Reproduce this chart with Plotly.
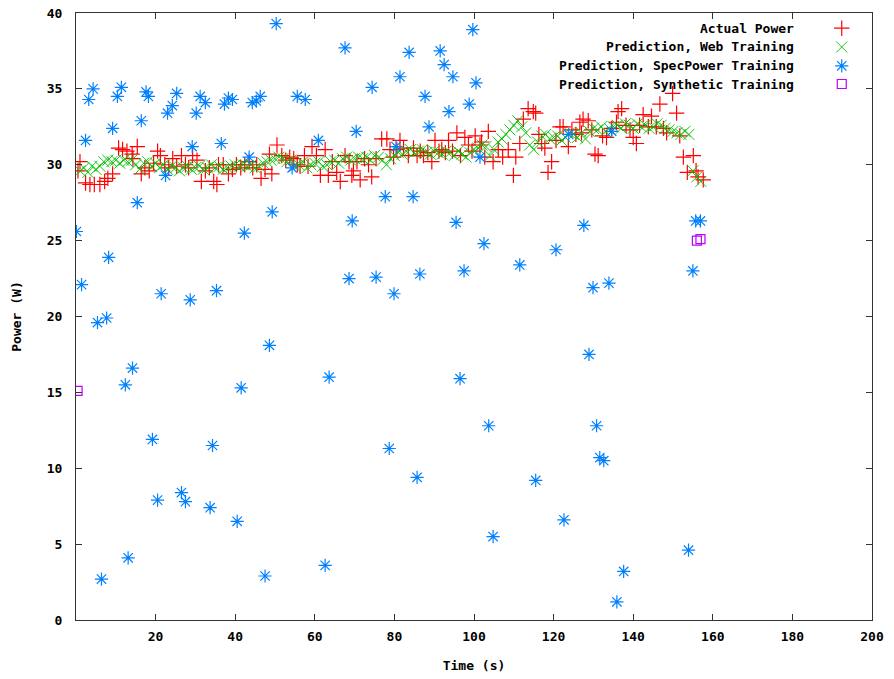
import plotly.graph_objects as go

# ---------------- data ----------------
actual_t = [0.5, 1.0, 2.4, 3.5, 4.6, 6.0, 7.2, 8.0, 9.2, 10.7, 11.7, 12.8, 14.1, 14.3, 15.4, 16.4, 17.3,
            18.4, 19.5, 20.5, 21.2, 22.3, 23.3, 24.3, 25.3, 26.5, 27.5, 28.3, 29.3, 30.4, 31.5, 32.5,
            33.5, 34.6, 35.4, 35.8, 37.0, 38.3, 39.3, 40.3, 41.4, 42.4, 43.5, 44.4, 45.4, 46.5, 47.5,
            48.6, 49.2, 50.5, 51.7, 52.7, 53.7, 54.7, 55.6, 56.3, 57.4, 58.3, 59.3, 60.4, 61.4, 62.6,
            63.4, 64.4, 65.5, 66.4, 67.6, 68.6, 69.3, 69.7, 70.6, 71.4, 72.5, 73.5, 74.3, 75.4, 76.8,
            78.1, 78.9, 79.8, 80.6, 81.4, 82.3, 83.5, 84.8, 85.7, 86.5, 87.3, 88.4, 89.4, 90.2, 91.2,
            91.9, 92.8, 93.6, 94.6, 95.7, 96.6, 97.7, 98.6, 99.5, 100.3, 101.5, 101.9, 102.7, 103.6,
            104.8, 106.1, 107.2, 108.6, 109.9, 110.5, 111.5, 112.4, 113.6, 114.9, 115.5, 116.3, 117.0,
            117.8, 118.6, 119.5, 120.6, 121.6, 122.4, 123.7, 124.6, 125.6, 126.6, 127.0, 127.4, 128.7,
            129.6, 130.4, 131.2, 132.3, 133.3, 134.6, 135.8, 136.2, 137.1, 138.2, 139.2, 140.0, 140.8,
            141.6, 142.5, 143.8, 144.6, 145.8, 146.7, 147.6, 148.4, 149.9, 150.9, 151.7, 152.6, 153.6,
            155.1, 155.8, 156.3, 157.6]
actual_w = [29.6, 30.2, 28.8, 28.7, 28.7, 28.7, 28.9, 29.1, 29.4, 31.1, 31.0, 30.9, 30.7, 30.4, 31.2, 29.4, 29.8,
            29.6, 30.1, 30.9, 30.6, 30.0, 29.8, 30.4, 29.9, 30.6, 30.0, 29.8, 30.6, 30.3, 28.9, 29.6,
            29.8, 28.9, 28.7, 30.0, 30.0, 29.4, 29.7, 30.0, 29.8, 30.0, 30.2, 29.8, 30.0, 29.1, 29.7,
            30.7, 29.4, 31.3, 30.6, 30.3, 30.5, 30.4, 30.0, 29.9, 30.6, 29.9, 31.2, 30.6, 29.3, 31.0,
            29.3, 30.2, 29.5, 28.9, 30.6, 30.2, 29.3, 29.6, 30.2, 29.0, 30.4, 30.0, 29.2, 30.4, 31.7,
            31.7, 31.0, 30.5, 31.0, 31.6, 31.1, 30.6, 31.1, 30.6, 30.9, 30.6, 30.8, 30.2, 31.6, 30.9,
            31.0, 30.8, 31.6, 30.9, 32.1, 30.6, 31.8, 31.3, 30.9, 31.9, 31.3, 31.5, 30.5, 32.2,
            30.2, 31.0, 30.5, 31.0, 29.3, 30.5, 31.4, 33.0, 33.7, 33.5, 33.4, 32.0, 31.4,
            31.1, 29.5, 30.2, 31.6, 32.5, 32.5, 31.2, 32.3, 32.0, 32.8, 32.1, 33.0, 32.9,
            32.3, 30.7, 30.6, 31.9, 31.8, 32.4, 32.8, 33.5, 33.7, 32.6, 32.3, 31.8, 31.4,
            32.6, 33.3, 32.5, 33.2, 32.5, 34.0, 32.4, 32.1, 34.7, 33.4, 31.9, 30.5, 29.5,
            30.6, 29.6, 29.2, 29.0]

web_t = list(range(1, 158))
web_w = [29.6, 29.8, 29.5, 29.9, 29.7, 29.9, 30.2, 30.3, 30.2, 30.3, 30.1, 30.3, 30.2, 30.3, 30.0, 29.7,
         30.1, 30.2, 29.9, 30.1, 29.8, 30.0, 29.7, 29.9, 29.8, 29.6, 29.8, 29.9, 29.7, 29.8, 29.9, 29.7,
         29.8, 30.0, 29.8, 29.9, 29.7, 29.8, 29.9, 30.0, 29.9, 30.0, 29.9, 30.0, 29.8, 29.9, 30.1, 30.2,
         30.3, 30.4, 30.5, 30.4, 30.2, 30.3, 29.9, 30.0, 30.2, 29.8, 30.0, 30.1, 30.2, 29.9, 30.0, 30.2,
         30.3, 30.1, 30.4, 30.5, 30.3, 30.4, 30.5, 30.4, 30.5, 30.3, 30.6, 30.5, 30.3, 30.0, 30.4, 30.6,
         30.8, 30.7, 30.9, 31.0, 30.8, 30.9, 31.0, 30.8, 30.7, 30.9, 30.8, 30.7, 30.9, 30.8, 30.6, 30.9,
         30.7, 30.5, 30.8, 31.0, 31.1, 31.3, 31.2, 30.6, 31.0, 31.5, 31.7, 32.0, 32.3, 32.6, 32.9, 32.5,
         32.1, 31.3, 31.0, 31.5, 31.9, 32.0, 31.7, 31.8, 31.9, 31.6, 31.8, 32.1, 32.0, 31.8, 32.1, 31.7,
         32.2, 32.4, 32.3, 32.5, 32.2, 32.4, 32.5, 32.6, 32.4, 32.7, 32.6, 32.4, 32.7, 32.5, 32.6, 32.4,
         32.5, 32.7, 32.6, 32.4, 32.3, 32.2, 32.1, 32.0, 32.2, 32.0, 29.6, 29.2, 28.9]

spec_t = [0.1, 1.4, 2.4, 3.2, 4.3, 5.4, 6.4, 7.7, 8.2, 9.2, 10.4, 11.4, 12.4, 13.1, 14.2, 15.4, 16.4, 17.6,
          18.2, 19.2, 20.5, 21.4, 22.5, 23.0, 24.2, 25.3, 26.5, 27.5, 28.7, 29.2, 30.2, 31.2, 32.5, 33.7,
          34.3, 35.3, 36.5, 37.3, 38.3, 39.3, 40.5, 41.5, 42.3, 43.5, 44.3, 45.3, 46.3, 47.5, 48.6, 49.3,
          50.3, 54.3, 55.6, 57.6, 60.9, 62.6, 63.6, 67.6, 68.6, 69.4, 70.4, 74.4, 75.4, 77.7, 78.7, 79.9,
          80.4, 81.4, 83.7, 84.7, 85.7, 86.4, 87.7, 88.7, 91.5, 92.5, 93.7, 94.7, 95.5, 96.5, 97.5, 98.8,
          99.7, 100.5, 101.5, 102.5, 103.7, 104.8, 111.5, 115.5, 120.6, 122.6, 123.8, 127.6, 128.9, 129.9,
          130.8, 131.6, 132.6, 133.9, 134.6, 135.9, 137.6, 153.9, 155.0, 155.7, 156.9]
spec_w = [25.6, 22.1, 31.6, 34.3, 35.0, 19.6, 2.7, 19.9, 23.9, 32.4, 34.5, 35.1, 15.5, 4.1, 16.6, 27.5, 32.9, 34.8,
          34.5, 11.9, 7.9, 21.5, 29.3, 33.4, 33.9, 34.7, 8.4, 7.8, 21.1, 31.2, 33.4, 34.5, 34.1, 7.4,
          11.5, 21.7, 31.4, 34.0, 34.4, 34.3, 6.5, 15.3, 25.5, 30.5, 34.1, 34.2, 34.5, 2.9, 18.1, 26.9,
          39.3, 29.8, 34.5, 34.3, 31.6, 3.6, 16.0, 37.7, 22.5, 26.3, 32.2, 35.1, 22.6, 27.9, 11.3, 21.5,
          31.2, 35.8, 37.4, 27.9, 9.4, 22.8, 34.5, 32.5, 37.5, 36.6, 33.5, 35.8, 26.2, 15.9, 23.0, 34.0,
          38.9, 35.4, 30.5, 24.8, 12.8, 5.5, 23.4, 9.2, 24.4, 6.6, 32.0, 26.0, 17.5, 21.9,
          12.8, 10.7, 10.5, 22.2, 32.2, 1.2, 3.2, 4.6, 23.0, 26.3, 26.3]

synth_t = [0.4, 156.0, 156.9]
synth_w = [15.1, 25.0, 25.1]

series_names = ["Actual Power", "Prediction, Web Training",
                "Prediction, SpecPower Training", "Prediction, Synthetic Training"]
x_ticks = [20, 40, 60, 80, 100, 120, 140, 160, 180, 200]
y_ticks = [0, 5, 10, 15, 20, 25, 30, 35, 40]

# ---------------- style ----------------
FONT = "DejaVu Sans Mono"
colors = ["#ff0000", "#00c000", "#0080ff", "#c000ff"]
symbols = ["cross-thin-open", "x-thin-open", "asterisk-open", "square-open"]
sizes = [11, 11, 11, 9]
widths = [1.2, 0.9, 1.2, 1.2]

fig = go.Figure()
series = [(actual_t, actual_w), (web_t, web_w), (spec_t, spec_w), (synth_t, synth_w)]
for (xs, ys), name, c, s, sz, lw in zip(series, series_names, colors, symbols, sizes, widths):
    fig.add_trace(go.Scatter(
        x=xs, y=ys, mode="markers", name=name, showlegend=False, cliponaxis=True,
        marker=dict(symbol=s, size=sz, color=c, line=dict(color=c, width=lw)),
    ))

# legend keys (gnuplot style: text right-aligned, key to the right) on a fixed overlay axis
key_rows = [0.975, 0.944, 0.913, 0.883]
for name, c, s, sz, lw, yk in zip(series_names, colors, symbols, sizes, widths, key_rows):
    fig.add_trace(go.Scatter(
        x=[0.962], y=[yk], xaxis="x2", yaxis="y2", mode="markers", showlegend=False,
        hoverinfo="skip",
        marker=dict(symbol=s, size=sz, color=c, line=dict(color=c, width=lw)),
    ))
    fig.add_annotation(
        x=0.905, y=yk, xref="x2", yref="y2", text=name, showarrow=False,
        xanchor="right", yanchor="middle",
        font=dict(family=FONT, size=13, color="black", weight="bold"),
    )

axis_common = dict(
    showline=True, linecolor="#333333", linewidth=1, mirror="ticks",
    ticks="inside", ticklen=6, tickwidth=1, tickcolor="#333333",
    showgrid=False, zeroline=False, automargin=False,
    tickfont=dict(family=FONT, size=13, color="black", weight="bold"),
)

fig.update_layout(
    width=894, height=679,
    margin=dict(l=76, r=22, t=13, b=59, autoexpand=False),
    paper_bgcolor="white", plot_bgcolor="white",
    showlegend=False,
    xaxis=dict(range=[0, 200], tickvals=x_ticks, ticktext=[str(v) for v in x_ticks],
               ticklabelstandoff=4,
               title=dict(text="Time (s)", standoff=18,
                          font=dict(family=FONT, size=13, color="black", weight="bold")),
               **axis_common),
    yaxis=dict(range=[0, 40], tickvals=y_ticks, ticktext=[str(v) for v in y_ticks],
               ticklabelstandoff=10,
               title=dict(text="Power (W)", standoff=22,
                          font=dict(family=FONT, size=13, color="black", weight="bold")),
               **axis_common),
    xaxis2=dict(range=[0, 1], overlaying="x", visible=False, fixedrange=True),
    yaxis2=dict(range=[0, 1], overlaying="y", visible=False, fixedrange=True),
)

fig.write_html("out.html", config={"displayModeBar": False},
               post_script="document.body.style.margin='0';document.body.style.overflow='hidden';")
